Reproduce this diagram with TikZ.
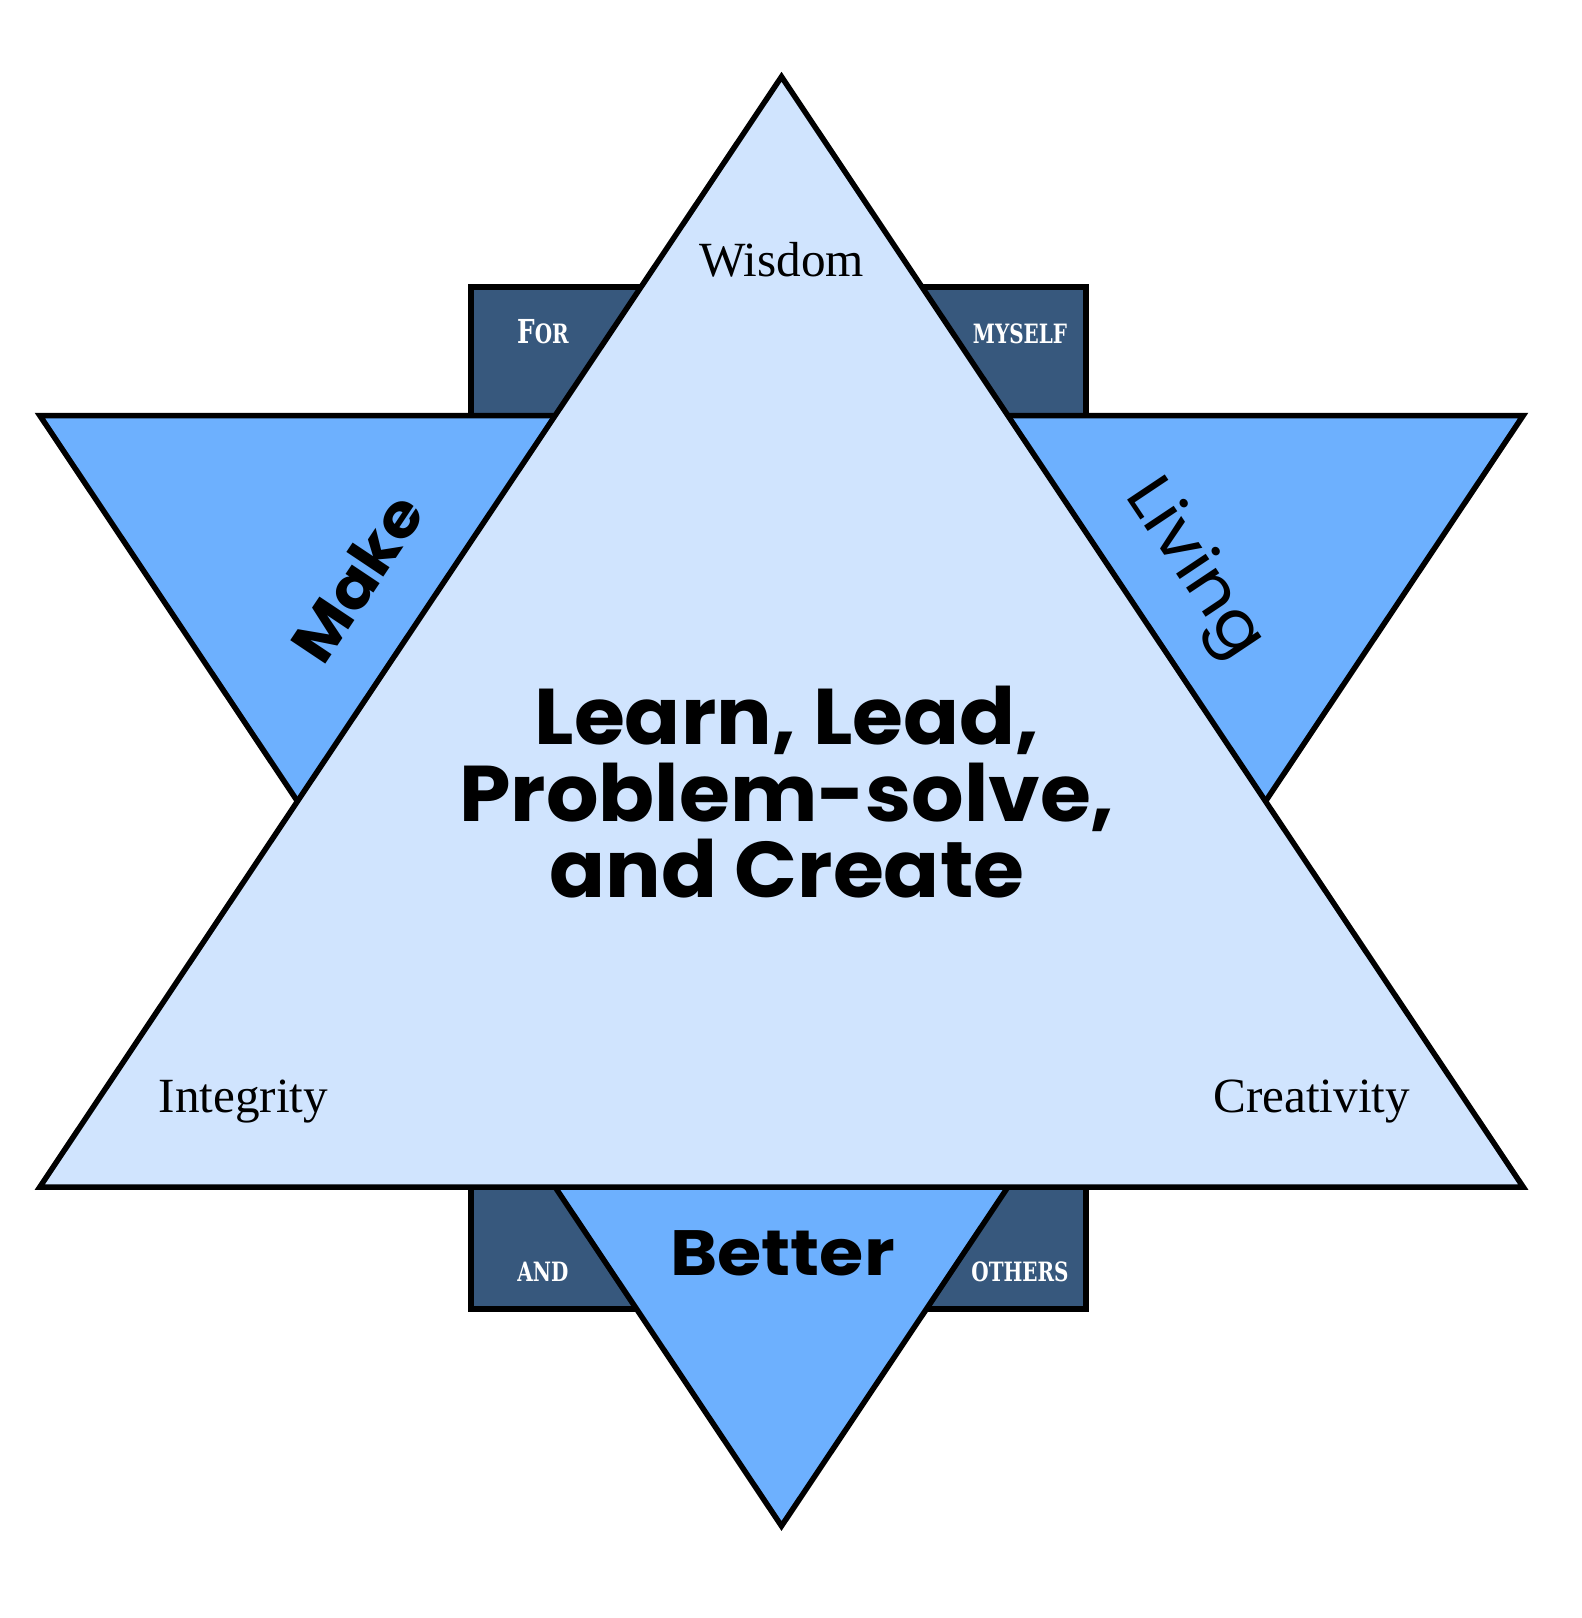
\documentclass[tikz,border=0pt]{standalone}
\usepackage{fontspec}
\usepackage{graphicx}
\setmainfont{Liberation Serif}
\newfontfamily\geo{Poppins}
\newfontfamily\slab{DejaVu Serif}
\definecolor{lightfill}{HTML}{D0E4FE}
\definecolor{midfill}{HTML}{6DB0FE}
\definecolor{darkfill}{HTML}{37587D}
\tikzset{
  shapeline/.style={draw=black, line width=2.75pt, line join=miter},
  seriflabel/.style={anchor=base, inner sep=0pt, font=\fontsize{24.6}{28}\selectfont},
  slablabel/.style={anchor=base, inner sep=0pt, text=white, font=\slab\bfseries},
  mainlabel/.style={anchor=base, inner sep=0pt, font=\geo\bfseries\fontsize{39.5}{40}\selectfont},
  sidelabel/.style={inner sep=0pt},
}
\newcommand{\slabF}[1]{\scalebox{0.75}[1]{#1}}
\newcommand{\wideF}[1]{\scalebox{1.045}[1]{#1}}
\begin{document}
\begin{tikzpicture}[x=0.5pt,y=-0.5pt]
\useasboundingbox (0,0) rectangle (1581,1618);
% back rectangle
\draw[shapeline, fill=darkfill] (471,287) rectangle (1086,1309);
% downward triangle
\draw[shapeline, fill=midfill] (39.8,415.5) -- (1523.2,415.5) -- (781.5,1526) -- cycle;
% upward triangle
\draw[shapeline, fill=lightfill] (39.8,1187) -- (1523.2,1187) -- (781.5,76.7) -- cycle;
% serif labels
\node[seriflabel] (wisdom) at (781.5,276.7) {Wisdom};
\node[seriflabel] (integrity) at (243.5,1112) {Integrity};
\node[seriflabel] (creativity) at (1311.7,1112) {Creativity};
% slab labels
\node[slablabel] (for) at (543,343) {\slabF{{\fontsize{16.5}{18}\selectfont F}{\fontsize{13.3}{15}\selectfont OR}}};
\node[slablabel] (myself) at (1020,343) {\slabF{\fontsize{13.3}{15}\selectfont MYSELF}};
\node[slablabel] (and) at (543,1281) {\slabF{\fontsize{13.3}{15}\selectfont AND}};
\node[slablabel] (others) at (1020,1281) {\slabF{\fontsize{13.3}{15}\selectfont OTHERS}};
% center text
\node[mainlabel] (c1) at (787,744.3) {\wideF{Learn, Lead,}};
\node[mainlabel] (c2) at (787,821) {\wideF{Problem-solve,}};
\node[mainlabel] (c3) at (787,897.3) {\wideF{and Create}};
% side words
\node[anchor=base, inner sep=0pt, font=\geo\bfseries\fontsize{32}{34}\selectfont] (better) at (782.6,1275) {\scalebox{1.12}[1]{Better}};
\node[sidelabel, rotate=56.25, font=\geo\bfseries\fontsize{30}{32}\selectfont] (make) at (357,578) {\scalebox{1.1}[1]{Make}};
\node[sidelabel, rotate=-56.25, font=\geo\fontsize{32.5}{34}\selectfont] (living) at (1193,570) {\scalebox{1.1}[1]{Living}};
\end{tikzpicture}
\end{document}
